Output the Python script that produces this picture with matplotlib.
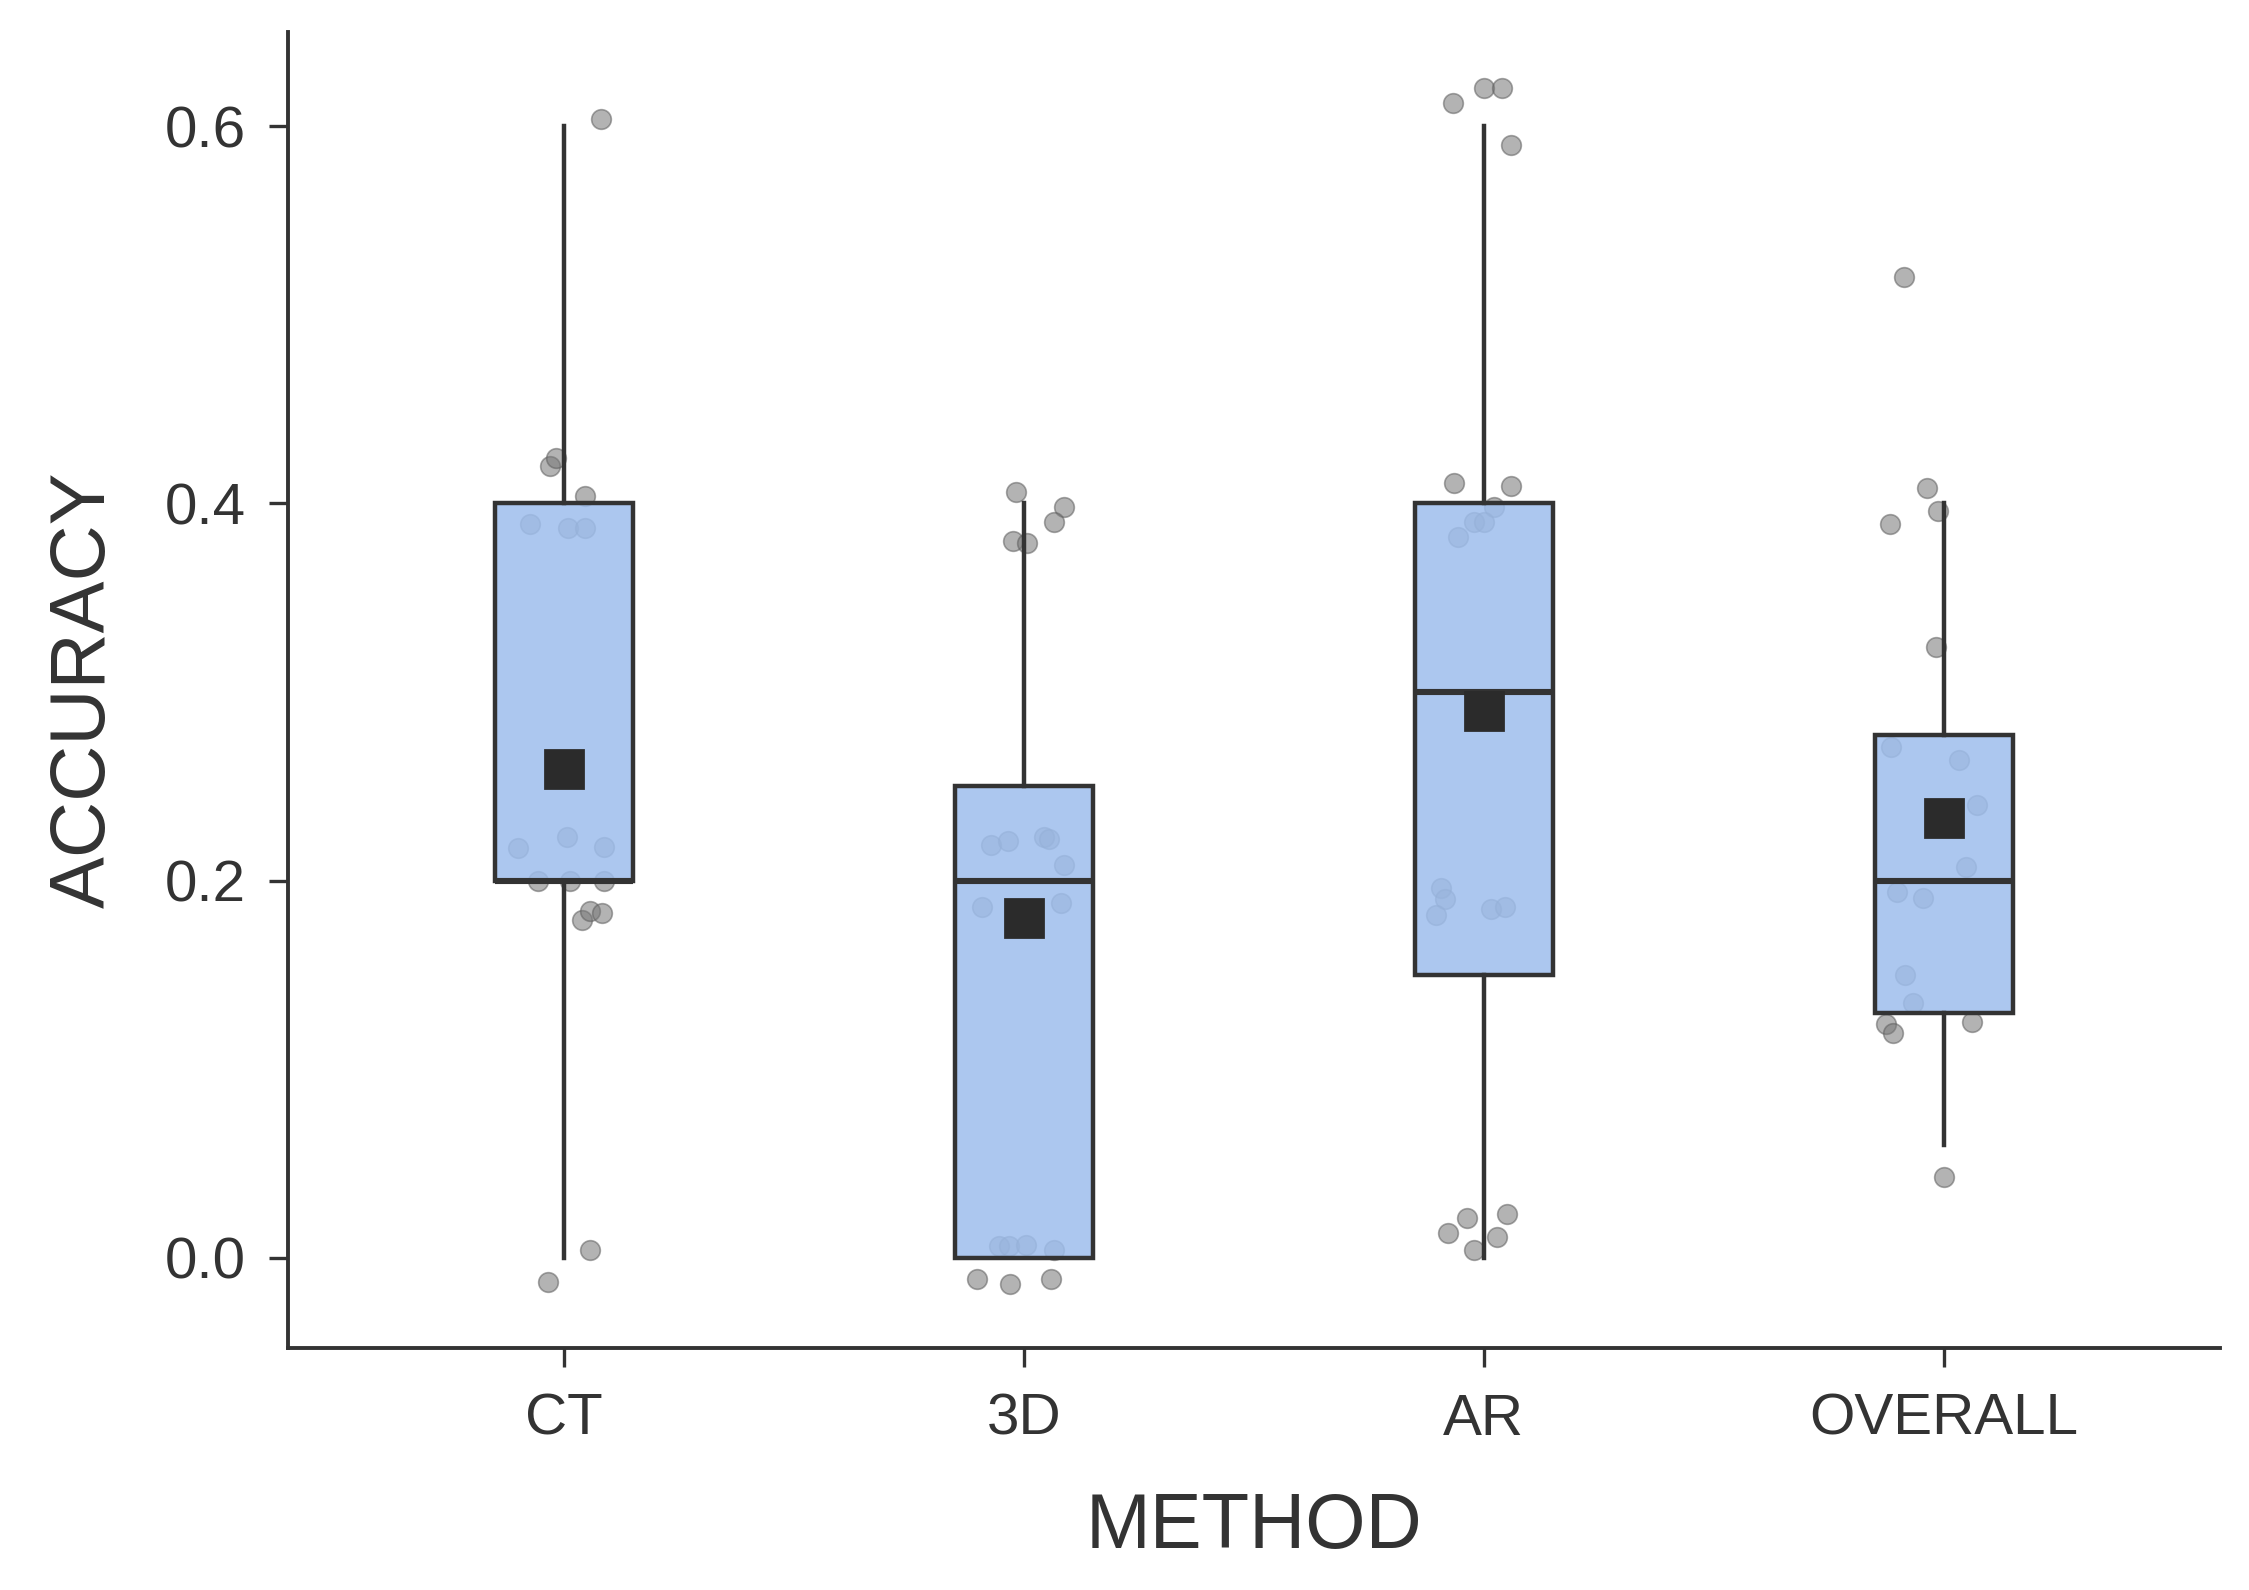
import matplotlib
matplotlib.use("Agg")
import matplotlib.pyplot as plt
import numpy as np

plt.rcParams['font.family'] = ['Liberation Sans', 'DejaVu Sans']

# ---- data ----
methods = ["CT", "3D", "AR", "OVERALL"]
whislo = [0.0, 0.0, 0.0, 0.06]
q1 = [0.20, 0.0, 0.15, 0.13]
med = [0.20, 0.20, 0.30, 0.20]
q3 = [0.40, 0.25, 0.40, 0.277]
whishi = [0.60, 0.40, 0.60, 0.40]
means = [0.259, 0.180, 0.290, 0.233]

ct_vals = [0.604, 0.420, 0.424, 0.404, 0.389, 0.387, 0.387, 0.217, 0.223, 0.218,
           0.200, 0.200, 0.200, 0.179, 0.184, 0.183, 0.004, -0.013]
ct_jit = [0.081, -0.03, -0.016, 0.046, -0.073, 0.01, 0.046, -0.099, 0.006, 0.087,
          -0.056, 0.013, 0.087, 0.039, 0.057, 0.082, 0.057, -0.034]

d3_vals = [0.406, 0.398, 0.390, 0.380, 0.379, 0.219, 0.221, 0.223, 0.222, 0.208,
           0.186, 0.188, 0.006, 0.006, 0.007, 0.004, -0.011, -0.014, -0.011]
d3_jit = [-0.016, 0.087, 0.066, -0.023, 0.007, -0.072, -0.034, 0.043, 0.054, 0.087,
          -0.092, 0.081, -0.054, -0.033, 0.004, 0.065, -0.101, -0.029, 0.06]

ar_vals = [0.612, 0.620, 0.620, 0.590, 0.411, 0.409, 0.398, 0.390, 0.390, 0.382,
           0.196, 0.190, 0.182, 0.185, 0.186, 0.013, 0.021, 0.023, 0.011, 0.004]
ar_jit = [-0.066, 0.0, 0.04, 0.06, -0.064, 0.06, 0.022, -0.021, 0.0, -0.057,
          -0.094, -0.085, -0.105, 0.015, 0.047, -0.078, -0.036, 0.05, 0.028, -0.022]

ov_vals = [0.520, 0.408, 0.396, 0.389, 0.324, 0.271, 0.264, 0.240, 0.207, 0.194,
           0.191, 0.150, 0.135, 0.124, 0.119, 0.125, 0.043]
ov_jit = [-0.087, -0.037, -0.013, -0.117, -0.017, -0.114, 0.034, 0.073, 0.048, -0.102,
          -0.046, -0.085, -0.066, -0.125, -0.111, 0.061, 0.0]

points = [(ct_vals, ct_jit), (d3_vals, d3_jit), (ar_vals, ar_jit), (ov_vals, ov_jit)]

# ---- figure ----
fig = plt.figure(figsize=(2249 / 200, 1590 / 200), dpi=200)
ax = fig.add_axes([0.128, 0.152, 0.859, 0.828])

dark = "#333333"

# jittered points (drawn beneath boxes)
for i, (vals, jit) in enumerate(points):
    xs = np.array(jit) + i
    ax.scatter(xs, vals, s=50, color="#767676", alpha=0.55, edgecolors="#5e5e5e",
               linewidths=0.6, zorder=1)

stats = []
for i in range(len(methods)):
    stats.append(dict(whislo=whislo[i], q1=q1[i], med=med[i], q3=q3[i],
                      whishi=whishi[i], fliers=[], label=methods[i]))

ax.bxp(stats, positions=range(len(methods)), widths=0.3, patch_artist=True,
       showfliers=False, showcaps=False,
       boxprops=dict(facecolor=(0.62, 0.745, 0.93, 0.85), edgecolor=dark, linewidth=1.6),
       medianprops=dict(color=dark, linewidth=2.2),
       whiskerprops=dict(color=dark, linewidth=1.6),
       zorder=2)

ax.plot(range(len(methods)), means, linestyle="none", marker="s", markersize=14,
        color="#2b2b2b", zorder=3)

ax.set_xlim(-0.6, 3.6)
ax.set_ylim(-0.048, 0.65)
ax.set_yticks([0.0, 0.2, 0.4, 0.6])
ax.set_yticklabels(["0.0", "0.2", "0.4", "0.6"])
ax.set_xticks(range(len(methods)))
ax.set_xticklabels(methods)

for s in ["top", "right"]:
    ax.spines[s].set_visible(False)
for s in ["left", "bottom"]:
    ax.spines[s].set_color(dark)
    ax.spines[s].set_linewidth(1.4)

ax.tick_params(axis="both", colors=dark, length=7, width=1.2, labelsize=21, pad=8)
ax.tick_params(axis="x", pad=9)
ax.set_ylabel("ACCURACY", fontsize=28, color=dark, labelpad=16)
ax.set_xlabel("METHOD", fontsize=28, color=dark, labelpad=16)

fig.savefig("out.png", dpi=200, facecolor="white")
